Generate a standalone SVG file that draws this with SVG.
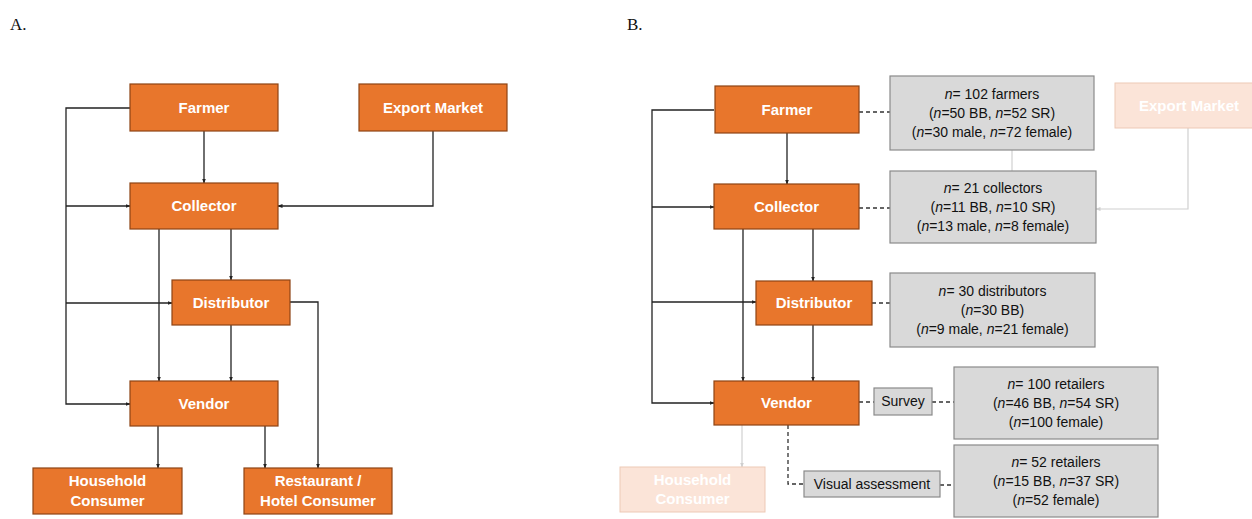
<svg xmlns="http://www.w3.org/2000/svg" width="1252" height="519" viewBox="0 0 1252 519">
<defs>
<marker id="ah" viewBox="0 0 10 10" refX="9" refY="5" markerWidth="5" markerHeight="5" orient="auto" markerUnits="userSpaceOnUse"><path d="M0,1 L10,5 L0,9 z" fill="#222"/></marker>
<marker id="ahf" viewBox="0 0 10 10" refX="9" refY="5" markerWidth="5" markerHeight="5" orient="auto" markerUnits="userSpaceOnUse"><path d="M0,1 L10,5 L0,9 z" fill="#cfcfcf"/></marker>
</defs>
<style>
.ob{fill:#E8762C;stroke:#8E4414;stroke-width:1.2}
.ot{fill:#fff;font-family:"Liberation Sans",Arial,sans-serif;font-weight:bold;font-size:15px;text-anchor:middle}
.gb{fill:#D9D9D9;stroke:#8A8A8A;stroke-width:1.2}
.gt{fill:#111;font-family:"Liberation Sans",Arial,sans-serif;font-size:14px;text-anchor:middle}
.fb{fill:#FBE4D8;stroke:#EDC9B6;stroke-width:1}
.ft{fill:#fff;font-family:"Liberation Sans",Arial,sans-serif;font-weight:bold;font-size:15px;text-anchor:middle}
.ln{fill:none;stroke:#222;stroke-width:1.3}
.ar{marker-end:url(#ah)}
.dl{fill:none;stroke:#333;stroke-width:1.3;stroke-dasharray:4 3}
.fl{fill:none;stroke:#d0d0d0;stroke-width:1.2}
.lab{font-family:"Liberation Serif","Times New Roman",serif;font-size:17px;fill:#111}
</style>
<rect width="1252" height="519" fill="#fff"/>
<text class="lab" x="10" y="30">A.</text>
<text class="lab" x="627" y="30">B.</text>

<g id="connectors-A">
<path class="ln ar" d="M130,108 H66 V404 H130"/>
<path class="ln ar" d="M66,206 H130"/>
<path class="ln ar" d="M66,303 H172"/>
<path class="ln ar" d="M204,131 V183"/>
<path class="ln ar" d="M433,131 V206 H278"/>
<path class="ln ar" d="M159,229 V381"/>
<path class="ln ar" d="M231,229 V280"/>
<path class="ln ar" d="M231,325 V381"/>
<path class="ln ar" d="M290,302 H318 V468"/>
<path class="ln ar" d="M158,426 V468"/>
<path class="ln ar" d="M265,426 V468"/>
</g>

<g id="a-farmer"><rect class="ob" x="130" y="84" width="148" height="47"/><text class="ot" x="204" y="113">Farmer</text></g>
<g id="a-export"><rect class="ob" x="359" y="84" width="148" height="47"/><text class="ot" x="433" y="113">Export Market</text></g>
<g id="a-collector"><rect class="ob" x="130" y="183" width="148" height="46"/><text class="ot" x="204" y="211">Collector</text></g>
<g id="a-distributor"><rect class="ob" x="172" y="280" width="118" height="45"/><text class="ot" x="231" y="308">Distributor</text></g>
<g id="a-vendor"><rect class="ob" x="130" y="381" width="148" height="45"/><text class="ot" x="204" y="409">Vendor</text></g>
<g id="a-household"><rect class="ob" x="33" y="468" width="149" height="46"/><text class="ot" x="107.5" y="486">Household</text><text class="ot" x="107.5" y="506">Consumer</text></g>
<g id="a-restaurant"><rect class="ob" x="244" y="468" width="148" height="46"/><text class="ot" x="318" y="486">Restaurant /</text><text class="ot" x="318" y="506">Hotel Consumer</text></g>

<g id="connectors-B">
<path class="ln ar" d="M714,110 H652 V403 H714"/>
<path class="ln ar" d="M652,207 H714"/>
<path class="ln ar" d="M652,302 H756"/>
<path class="ln ar" d="M787,133 V184"/>
<path class="ln ar" d="M743,229 V381"/>
<path class="ln ar" d="M813,229 V281"/>
<path class="ln ar" d="M813,325 V381"/>
<path class="dl" d="M859,112 H890"/>
<path class="dl" d="M859,208 H890"/>
<path class="dl" d="M872,303 H890"/>
<path class="dl" d="M859,402 H874"/>
<path class="dl" d="M932,402 H954"/>
<path class="dl" d="M788,425 V484 H804"/>
<path class="dl" d="M940,485 H954"/>
<path class="fl" d="M1012,150 V171"/>
<path class="fl" d="M1188,128 V209 H1096" marker-end="url(#ahf)"/>
<path class="fl" d="M742,425 V467" marker-end="url(#ahf)"/>
</g>

<g id="b-farmer"><rect class="ob" x="715" y="86" width="144" height="47"/><text class="ot" x="787" y="115">Farmer</text></g>
<g id="b-collector"><rect class="ob" x="714" y="184" width="145" height="45"/><text class="ot" x="786.5" y="212">Collector</text></g>
<g id="b-distributor"><rect class="ob" x="756" y="281" width="116" height="44"/><text class="ot" x="814" y="308">Distributor</text></g>
<g id="b-vendor"><rect class="ob" x="714" y="381" width="145" height="44"/><text class="ot" x="786.5" y="408">Vendor</text></g>
<g id="b-export-faded"><rect class="fb" x="1115" y="83" width="148" height="45"/><text class="ft" x="1189" y="111">Export Market</text></g>
<g id="b-household-faded"><rect class="fb" x="620" y="467" width="145" height="45"/><text class="ft" x="692.5" y="485">Household</text><text class="ft" x="692.5" y="504">Consumer</text></g>

<g id="b-farmer-n"><rect class="gb" x="890" y="76" width="204" height="74"/>
<text class="gt" x="992" y="99"><tspan font-style="italic">n</tspan>= 102 farmers</text>
<text class="gt" x="992" y="118">(<tspan font-style="italic">n</tspan>=50 BB, <tspan font-style="italic">n</tspan>=52 SR)</text>
<text class="gt" x="992" y="137">(<tspan font-style="italic">n</tspan>=30 male, <tspan font-style="italic">n</tspan>=72 female)</text></g>
<g id="b-collector-n"><rect class="gb" x="890" y="171" width="206" height="72"/>
<text class="gt" x="993" y="193"><tspan font-style="italic">n</tspan>= 21 collectors</text>
<text class="gt" x="993" y="212">(<tspan font-style="italic">n</tspan>=11 BB, <tspan font-style="italic">n</tspan>=10 SR)</text>
<text class="gt" x="993" y="231">(<tspan font-style="italic">n</tspan>=13 male, <tspan font-style="italic">n</tspan>=8 female)</text></g>
<g id="b-distributor-n"><rect class="gb" x="890" y="273" width="205" height="74"/>
<text class="gt" x="992.5" y="296"><tspan font-style="italic">n</tspan>= 30 distributors</text>
<text class="gt" x="992.5" y="315">(<tspan font-style="italic">n</tspan>=30 BB)</text>
<text class="gt" x="992.5" y="334">(<tspan font-style="italic">n</tspan>=9 male, <tspan font-style="italic">n</tspan>=21 female)</text></g>
<g id="b-survey"><rect class="gb" x="874" y="388" width="58" height="27"/><text class="gt" x="903" y="406">Survey</text></g>
<g id="b-visual"><rect class="gb" x="804" y="471" width="136" height="26"/><text class="gt" x="872" y="489">Visual assessment</text></g>
<g id="b-retail1-n"><rect class="gb" x="954" y="367" width="204" height="72"/>
<text class="gt" x="1056" y="389"><tspan font-style="italic">n</tspan>= 100 retailers</text>
<text class="gt" x="1056" y="408">(<tspan font-style="italic">n</tspan>=46 BB, <tspan font-style="italic">n</tspan>=54 SR)</text>
<text class="gt" x="1056" y="427">(<tspan font-style="italic">n</tspan>=100 female)</text></g>
<g id="b-retail2-n"><rect class="gb" x="954" y="445" width="204" height="72"/>
<text class="gt" x="1056" y="467"><tspan font-style="italic">n</tspan>= 52 retailers</text>
<text class="gt" x="1056" y="486">(<tspan font-style="italic">n</tspan>=15 BB, <tspan font-style="italic">n</tspan>=37 SR)</text>
<text class="gt" x="1056" y="505">(<tspan font-style="italic">n</tspan>=52 female)</text></g>
</svg>
